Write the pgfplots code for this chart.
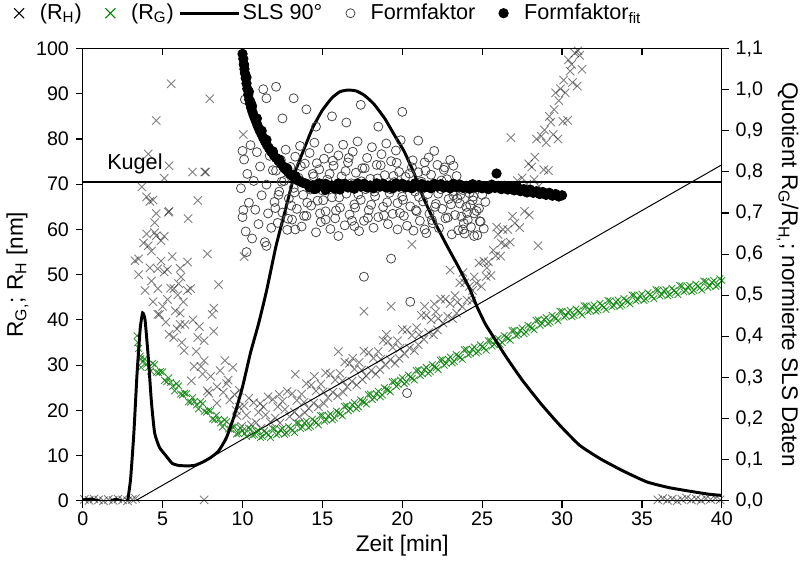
\documentclass[border=0pt]{standalone}
\usepackage{fontspec}
\setmainfont{Liberation Sans}
\usepackage{pgfplots}
\pgfplotsset{compat=1.18}
\definecolor{rgreen}{RGB}{0,128,0}
\definecolor{rgray}{RGB}{70,70,70}

\pgfplotsset{
  base/.style={
    scale only axis, width=325pt, height=230pt,
    xmin=0, xmax=40,
    axis line style={line width=0.6pt},
    every tick/.style={black, line width=0.6pt},
    major tick length=3.5pt,
    tick label style={font=\fontsize{10}{12}\selectfont},
    label style={font=\fontsize{11.5}{13}\selectfont},
    /pgf/number format/assume math mode=true,
  },
}

\begin{document}
\begin{tikzpicture}
% ---- left axis: R_H, R_G [nm]
\begin{axis}[base, ymin=0, ymax=100,
  xtick={0,5,...,40}, ytick={0,10,...,100},
  xtick pos=left, ytick pos=left, tick align=outside,
  xticklabel style={yshift=1.5pt},
  xlabel={Zeit [min]},
  ylabel={R\textsubscript{G,}; R\textsubscript{H} [nm]},
  ylabel style={yshift=-3pt}, xlabel style={yshift=2pt}]

% R_H
\addplot[only marks, mark=x, mark size=3pt,
  mark options={draw=black, draw opacity=0.5, line width=0.45pt}] coordinates {
(0.1,0.3)(0.4,0.1)(0.7,0.4)(1.0,0.2)(1.3,0.0)(1.6,0.3)(1.9,0.1)(2.2,0.4)(2.5,0.2)(2.8,0.0)(3.1,0.3)(3.3,0.5)
(3.27,53.1)(3.5,50)(3.5,53.5)(3.7,69.4)(3.9,46.5)(4.0,67.2)(4.1,76.7)(4.1,56.4)(4.2,66.2)(4.3,55.2)(4.3,48.6)
(4.4,66.5)(4.5,59.3)(4.6,84.1)(4.6,58.6)(4.7,51.3)(4.7,46.9)(4.7,41.2)(4.8,41.2)(4.9,57.5)(5.1,71.3)(5.1,58.5)
(5.1,50.6)(5.3,51.1)(5.36,63.8)(5.4,74.1)(5.4,64)(5.4,36.8)(5.5,47)(5.54,92.2)(5.7,46.9)(5.7,36.1)(5.9,38)
(5.95,45.5)(6.1,51.4)(6.1,41.5)(6.1,39)(6.15,49.5)(6.35,33.2)(6.4,39)(6.56,52.8)(6.56,46.5)(6.6,62.4)(6.75,46.9)
(6.87,72.7)(6.97,29.7)(7.2,66.4)(7.2,36.1)(7.4,29.7)(7.6,35.4)(7.6,31)(7.63,72.7)(7.8,54.6)(7.8,24.3)(7.9,23.8)
(7.95,88.9)(8.1,41.2)(8.2,42.6)(8.2,37.5)(8.4,25.2)(8.4,21.6)(8.5,47.8)(8.6,28.8)(9.0,25.9)(9.1,26.7)(9.2,22.3)
(9.4,29.5)(9.8,24.4)(7.6,0.2)(4.4,44)(5.0,43)(5.2,39.5)(5.8,42)(6.3,44)(6.9,40)(7.1,33)(7.3,38.5)(6.2,35)
(5.6,54)(4.9,53)(4.2,51.5)(4.5,61.5)(4.0,59)(3.8,57)(6.8,26.5)(8.0,27.5)(8.8,24)(8.9,31)(9.6,20)(7.5,28)
(5.3,44.5)(6.0,48)(4.6,63.5)(7.7,72.7)(10.05,81)(10.1,54)
(9.50,23.5)(9.65,18.8)(9.80,20.7)(9.95,16.5)(10.10,21.0)(10.25,18.9)(10.40,22.7)(10.55,16.8)(10.70,21.7)
(10.85,17.3)(11.00,19.6)(11.15,16.0)(11.30,20.8)(11.45,19.0)(11.60,23.0)(11.75,17.4)(11.90,22.4)(12.05,18.3)
(12.20,20.8)(12.35,17.2)(12.50,22.0)(12.65,20.2)(12.80,24.2)(12.95,18.6)(13.10,23.7)(13.25,19.6)(13.40,22.2)
(13.55,18.6)(13.70,23.6)(13.85,21.8)(14.00,25.9)(14.15,20.4)(14.30,25.6)(14.45,21.6)(14.60,24.3)(14.75,20.8)
(14.90,25.8)(15.05,24.1)(15.20,28.3)(15.35,22.8)(15.50,28.0)(15.65,24.0)(15.80,26.7)(15.95,23.2)(16.10,28.2)
(16.25,26.5)(16.40,30.7)(16.55,25.2)(16.70,30.4)(16.85,26.4)(17.00,29.1)(17.15,25.6)(17.30,30.6)(17.45,28.9)
(17.60,33.1)(17.75,27.6)(17.90,32.8)(18.05,28.8)(18.20,31.5)(18.35,28.0)(18.50,33.0)(18.65,31.3)(18.80,35.5)
(18.95,30.0)(19.10,35.2)(19.25,31.2)(19.40,33.9)(19.55,30.4)(19.70,35.4)(19.85,33.7)(20.00,37.9)(20.15,32.5)
(20.30,37.8)(20.45,33.8)(20.60,36.6)(20.75,33.2)(20.90,38.3)(21.05,36.7)(21.20,41.0)(21.35,35.7)(21.50,41.0)
(21.65,37.2)(21.80,40.0)(21.95,36.7)(22.10,41.8)(22.25,40.3)(22.40,44.6)(22.55,39.3)(22.70,44.6)(22.85,40.8)
(23.00,43.6)(23.15,40.3)(23.30,45.4)(23.45,43.9)(23.60,48.2)(23.75,42.9)(23.90,48.2)(24.05,44.4)(24.20,47.4)
(24.35,44.2)(24.50,49.5)(24.65,48.1)(24.80,52.6)(24.95,47.4)(25.10,53.0)(25.25,49.6)(25.40,52.8)(25.55,49.8)
(25.70,55.4)(25.85,54.2)(26.00,58.9)(26.15,54.1)(26.30,60.0)(26.45,56.6)(26.60,60.0)(26.75,57.2)(26.90,62.9)
(27.05,61.4)(27.20,70.8)(27.35,60.4)(27.50,71.4)(27.65,64.0)(27.80,70.0)(27.95,63.2)(28.10,73.8)(28.25,71.0)
(28.40,80.0)(28.55,69.6)(28.70,80.6)(28.85,73.2)(29.00,79.2)(29.15,73.0)(29.30,83.7)(29.45,81.0)(29.60,90.2)
(29.75,80.0)(29.90,91.1)(30.05,83.9)(30.20,90.2)(30.35,84.1)(30.50,95.0)(30.65,92.5)(30.80,99.0)(30.95,91.7)
(31.10,98.5)(31.25,95.4)(30.4,97.5)(31.0,99.5)(30.6,96.5)(29.8,88.5)(29.5,86.5)(30.1,93)(28.9,82)(29.2,85)
(27.9,74.5)(28.3,76)(26.8,80.3)(28.5,56.4)(17.6,41.9)(19.3,43)(20.6,56.7)(22.0,43.5)(16.0,33)(23.0,51)(13.3,28)
(12.3,23.5)(13.9,19.5)(15.1,21.5)(16.3,24.0)(17.5,26.8)(18.6,29.0)(19.8,31.5)(21.0,34.5)(22.2,37.8)(23.4,41.5)
(24.4,46.5)(25.3,51.5)(26.2,57.0)(11.1,21.5)(14.5,27.5)(16.9,31.5)(19.0,36.8)(21.4,43.0)(23.8,50.5)(25.9,60.5)
(36.0,0.2)(36.3,0.5)(36.6,0.1)(36.9,0.4)(37.2,0.0)(37.5,0.3)(37.8,0.6)(38.1,0.2)(38.4,0.4)(38.7,0.1)(39.0,0.5)
(39.3,0.3)(39.6,0.6)(39.9,0.2)
};

% R_G
\addplot[only marks, mark=x, mark size=2.4pt,
  mark options={draw=rgreen, draw opacity=0.8, line width=0.45pt}] coordinates {
(3.4,36.5)(3.45,35.0)(3.6,32.0)(3.65,29.5)
(3.50,33.7)(3.75,30.7)(4.00,30.2)(4.25,28.7)(4.50,30.1)(4.75,28.3)(5.00,28.5)(5.25,26.3)(5.50,26.2)(5.75,24.3)
(6.00,25.4)(6.25,23.4)(6.50,23.7)(6.75,21.8)(7.00,22.0)(7.25,20.3)(7.50,21.5)(7.75,19.6)(8.00,19.9)(8.25,17.9)
(8.50,18.0)(8.75,16.3)(9.00,17.5)(9.25,15.8)(9.50,16.4)(9.75,14.9)(10.00,15.5)(10.25,14.2)(10.50,15.9)(10.75,14.6)
(11.00,15.5)(11.25,14.2)(11.50,15.0)(11.75,14.0)(12.00,15.9)(12.25,14.9)(12.50,16.0)(12.75,15.0)(13.00,16.0)(13.25,15.1)
(13.50,17.2)(13.75,16.3)(14.00,17.6)(14.25,16.5)(14.50,17.6)(14.75,16.8)(15.00,18.9)(15.25,17.9)(15.50,19.2)(15.75,18.3)
(16.00,19.5)(16.25,18.8)(16.50,21.0)(16.75,20.3)(17.00,21.7)(17.25,20.8)(17.50,22.0)(17.75,21.4)(18.00,23.6)(18.25,22.8)
(18.50,24.2)(18.75,23.4)(19.00,24.7)(19.25,24.1)(19.50,26.4)(19.75,25.7)(20.00,27.2)(20.25,26.3)(20.50,27.4)(20.75,26.7)
(21.00,28.9)(21.25,28.1)(21.50,29.5)(21.75,28.6)(22.00,29.7)(22.25,29.0)(22.50,31.2)(22.75,30.4)(23.00,31.8)(23.25,30.8)
(23.50,32.0)(23.75,31.3)(24.00,33.5)(24.25,32.6)(24.50,34.0)(24.75,33.0)(25.00,34.1)(25.25,33.3)(25.50,35.4)(25.75,34.6)
(26.00,35.9)(26.25,35.0)(26.50,36.2)(26.75,35.5)(27.00,37.7)(27.25,36.8)(27.50,38.2)(27.75,37.3)(28.00,38.5)(28.25,37.8)
(28.50,40.0)(28.75,39.2)(29.00,40.5)(29.25,39.5)(29.50,40.6)(29.75,39.8)(30.00,41.9)(30.25,40.9)(30.50,42.1)(30.75,41.0)
(31.00,42.0)(31.25,41.1)(31.50,43.1)(31.75,42.1)(32.00,43.3)(32.25,42.2)(32.50,43.2)(32.75,42.3)(33.00,44.2)(33.25,43.2)
(33.50,44.4)(33.75,43.3)(34.00,44.3)(34.25,43.5)(34.50,45.5)(34.75,44.5)(35.00,45.7)(35.25,44.6)(35.50,45.6)(35.75,44.7)
(36.00,46.6)(36.25,45.6)(36.50,46.7)(36.75,45.6)(37.00,46.5)(37.25,45.6)(37.50,47.5)(37.75,46.5)(38.00,47.6)(38.25,46.5)
(38.50,47.5)(38.75,46.6)(39.00,48.5)(39.25,47.5)(39.50,48.7)(39.75,47.7)(40.00,48.7)
(3.625,31.4)(3.875,31.4)(4.125,29.5)(4.375,30.4)(4.625,28.4)(4.875,28.6)(5.125,26.6)(5.375,27.2)(5.625,25.3)
(5.875,25.9)(6.125,23.6)(6.375,23.8)(6.625,21.9)(6.875,22.8)(7.125,21.2)(7.375,21.9)(7.625,19.8)(7.875,20.0)
(8.125,18.1)(8.375,18.9)(8.625,17.2)(8.875,17.9)(9.125,15.9)(9.375,16.3)(9.625,14.8)(9.875,16.1)(10.125,14.9)
(10.375,16.1)(10.625,14.5)(10.875,15.3)(11.125,14.0)(11.375,15.5)(11.625,14.6)(11.875,16.0)(12.125,14.6)
(12.375,15.7)(12.625,14.7)(12.875,16.4)(13.125,15.6)(13.375,17.2)(13.625,16.0)(13.875,17.2)(14.125,16.2)
(14.375,18.0)(14.625,17.3)(14.875,18.9)(15.125,17.6)(15.375,18.8)(15.625,17.9)(15.875,19.8)(16.125,19.2)
(16.375,20.9)(16.625,19.9)(16.875,21.2)(17.125,20.4)(17.375,22.3)(17.625,21.8)(17.875,23.5)(18.125,22.4)
(18.375,23.7)(18.625,23.0)(18.875,25.0)(19.125,24.5)(19.375,26.3)(19.625,25.3)(19.875,26.7)(20.125,25.9)
(20.375,27.8)(20.625,27.1)(20.875,28.8)(21.125,27.7)(21.375,29.0)(21.625,28.2)(21.875,30.1)(22.125,29.4)
(22.375,31.1)(22.625,30.0)(22.875,31.3)(23.125,30.5)(23.375,32.3)(23.625,31.7)(23.875,33.4)(24.125,32.3)
(24.375,33.5)(24.625,32.7)(24.875,34.5)(25.125,33.8)(25.375,35.4)(25.625,34.2)(25.875,35.5)(26.125,34.6)
(26.375,36.5)(26.625,35.9)(26.875,37.6)(27.125,36.5)(27.375,37.7)(27.625,36.9)(27.875,38.8)(28.125,38.2)
(28.375,39.9)(28.625,38.8)(28.875,40.1)(29.125,39.2)(29.375,41.0)(29.625,40.3)(29.875,41.9)(30.125,40.6)
(30.375,41.7)(30.625,40.7)(30.875,42.4)(31.125,41.6)(31.375,43.1)(31.625,41.8)(31.875,42.9)(32.125,41.9)
(32.375,43.6)(32.625,42.8)(32.875,44.3)(33.125,42.9)(33.375,44.0)(33.625,43.0)(33.875,44.7)(34.125,44.0)
(34.375,45.5)(34.625,44.2)(34.875,45.3)(35.125,44.3)(35.375,46.0)(35.625,45.2)(35.875,46.7)(36.125,45.3)
(36.375,46.4)(36.625,45.3)(36.875,47.0)(37.125,46.1)(37.375,47.6)(37.625,46.2)(37.875,47.3)(38.125,46.2)
(38.375,47.9)(38.625,47.1)(38.875,48.6)(39.125,47.2)(39.375,48.3)(39.625,47.4)(39.875,49.1)
};

% linear guide
\addplot[black, line width=0.5pt] coordinates {(3.3,0) (40,74.3)};
\end{axis}

% ---- right axis: quotient, normalised SLS
\begin{axis}[base, ymin=0, ymax=1.1,
  axis y line*=right, axis x line=none,
  ytick={0,0.1,0.2,0.3,0.4,0.5,0.6,0.7,0.8,0.9,1.0,1.1}, tick align=outside,
  yticklabel style={/pgf/number format/.cd, fixed, fixed zerofill, precision=1, use comma},
  ylabel={Quotient R\textsubscript{G}/R\textsubscript{H,}; normierte SLS Daten},
  ylabel style={rotate=180},
  legend columns=-1, legend cell align=left,
  legend style={at={(-0.108,1.078)}, anchor=west, draw=none, fill=none,
    font=\fontsize{11}{13}\selectfont, inner sep=0pt,
    /tikz/every odd column/.append style={column sep=6pt},
    /tikz/every even column/.append style={column sep=10pt}}]

\addlegendimage{only marks, mark=x, mark size=3.6pt, black, mark options={line width=0.5pt}}
\addlegendentry{(R\textsubscript{H})}
\addlegendimage{only marks, mark=x, mark size=3.6pt, rgreen, mark options={line width=0.5pt}}
\addlegendentry{(R\textsubscript{G})}

% Kugel
\addplot[black, line width=0.8pt, forget plot] coordinates {(0,0.775) (40,0.775)};
\node[anchor=base west, font=\fontsize{11}{13}\selectfont] at (axis cs:1.1,0.805) {Kugel};

% SLS 90
\addplot[black, line width=1.5pt, smooth, tension=0.3,
  legend image code/.code={
    \draw[overlay, line width=1.5pt] (-9pt,0pt) -- (21pt,0pt);
    \path[draw=none, fill=none] (0pt,-2pt) rectangle (15pt,2pt);}] coordinates {
(0,0.002)(0.5,0.004)(1.0,0.0)(1.5,-0.004)(2.0,0.003)(2.4,0.0)(2.6,-0.016)(2.75,-0.01)(2.85,0.01)(3.0,0.055)
(3.2,0.165)(3.4,0.31)(3.6,0.42)(3.75,0.457)(3.9,0.44)(4.1,0.35)(4.3,0.24)(4.5,0.165)(4.8,0.13)(5.2,0.11)
(5.6,0.091)(6.0,0.086)(6.5,0.085)(7.0,0.086)(7.5,0.094)(8.0,0.105)(8.5,0.121)(9.0,0.154)(9.5,0.209)(10.0,0.277)
(10.5,0.36)(11.0,0.43)(11.5,0.51)(12.1,0.62)(12.7,0.71)(13.3,0.80)(14.0,0.87)(14.4,0.908)(15.0,0.95)(15.6,0.98)
(16.1,0.995)(16.6,0.999)(17.1,0.997)(17.6,0.987)(18.2,0.966)(18.9,0.93)(19.5,0.89)(20.1,0.851)(20.7,0.80)
(21.3,0.739)(22.0,0.68)(22.8,0.62)(23.5,0.57)(24.2,0.517)(24.7,0.47)(25.2,0.43)(25.6,0.405)(26.5,0.35)
(27.5,0.294)(28.7,0.235)(29.9,0.182)(31.1,0.135)(32.4,0.102)(33.8,0.073)(35.3,0.046)(36.7,0.032)(38.2,0.022)
(39.2,0.016)(40,0.013)
};
\addlegendentry{SLS 90°}

% Formfaktor
\addplot[only marks, mark=o, mark size=2.3pt,
  mark options={draw=rgray, line width=0.4pt, fill=none}] coordinates {
(9.9,0.760)(10.0,0.690)(10.1,0.830)(10.2,0.655)(10.3,0.795)(10.4,0.725)(10.5,0.865)(10.6,0.638)(10.7,0.778)
(10.8,0.708)(10.9,0.848)(11.0,0.673)(11.1,0.813)(11.2,0.743)(11.3,0.883)(11.4,0.629)(11.5,0.769)(11.6,0.699)
(11.7,0.839)(11.8,0.664)(11.9,0.804)
(12.0,0.727)(12.1,0.803)(12.2,0.676)(12.3,0.752)(12.4,0.829)(12.5,0.701)(12.6,0.778)(12.7,0.854)(12.8,0.659)
(12.9,0.735)(13.0,0.812)(13.1,0.684)(13.2,0.761)(13.3,0.837)(13.4,0.710)(13.5,0.786)(13.6,0.863)(13.7,0.667)
(13.8,0.744)(13.9,0.820)(14.0,0.693)(14.1,0.769)(14.2,0.846)(14.3,0.718)(14.4,0.795)(14.5,0.871)(14.6,0.653)
(14.7,0.730)(14.8,0.806)(14.9,0.678)(15.0,0.755)(15.1,0.832)(15.2,0.704)(15.3,0.781)(15.4,0.857)(15.5,0.661)
(15.6,0.738)(15.7,0.815)(15.8,0.687)(15.9,0.764)(16.0,0.840)(16.1,0.713)(16.2,0.789)(16.3,0.866)(16.4,0.670)
(16.5,0.747)(16.6,0.823)(16.7,0.696)(16.8,0.772)(16.9,0.849)(17.0,0.721)(17.1,0.798)(17.2,0.874)(17.3,0.656)
(17.4,0.732)(17.5,0.809)(17.6,0.681)(17.7,0.758)(17.8,0.834)(17.9,0.707)(18.0,0.783)(18.1,0.860)(18.2,0.664)
(18.3,0.741)(18.4,0.817)(18.5,0.690)(18.6,0.766)(18.7,0.843)(18.8,0.715)(18.9,0.792)(19.0,0.869)(19.1,0.673)
(19.2,0.749)(19.3,0.826)(19.4,0.698)(19.5,0.775)(19.6,0.852)(19.7,0.724)(19.8,0.800)(19.9,0.877)
(20.0,0.740)(20.1,0.693)(20.2,0.788)(20.3,0.669)(20.4,0.764)(20.5,0.716)(20.6,0.811)(20.7,0.657)(20.8,0.752)
(20.9,0.704)(21.0,0.799)(21.1,0.681)(21.2,0.776)(21.3,0.728)(21.4,0.823)(21.5,0.651)(21.6,0.746)(21.7,0.698)
(21.8,0.793)(21.9,0.675)(22.0,0.770)(22.1,0.722)(22.2,0.817)(22.3,0.663)(22.4,0.758)(22.5,0.710)(22.6,0.805)
(22.7,0.687)(22.8,0.782)(22.9,0.734)(23.0,0.829)(23.1,0.648)(23.2,0.743)(23.3,0.695)(23.4,0.790)
(23.5,0.658)(23.6,0.723)(23.7,0.691)(23.8,0.756)(23.9,0.650)(24.0,0.715)(24.1,0.683)(24.2,0.748)(24.3,0.666)
(24.4,0.731)(24.5,0.699)(24.6,0.764)(24.7,0.646)(24.8,0.711)(24.9,0.679)(25.0,0.744)(25.1,0.662)(25.2,0.727)
(12.05,0.712)(12.25,0.744)(12.45,0.776)(12.65,0.808)(12.85,0.686)(13.05,0.718)(13.25,0.750)(13.45,0.782)
(13.65,0.814)(13.85,0.693)(14.05,0.725)(14.25,0.757)(14.45,0.789)(14.65,0.821)(14.85,0.699)(15.05,0.731)
(15.25,0.763)(15.45,0.795)(15.65,0.827)(15.85,0.706)(16.05,0.738)(16.25,0.770)(16.45,0.802)(16.65,0.834)
(16.85,0.681)(17.05,0.713)(17.25,0.745)(17.45,0.777)(17.65,0.809)(17.85,0.688)(18.05,0.720)(18.25,0.752)
(18.45,0.784)(18.65,0.816)(18.85,0.694)(19.05,0.726)(19.25,0.758)(19.45,0.790)(19.65,0.822)(19.85,0.700)
(20.05,0.732)(20.25,0.764)(20.45,0.796)(20.65,0.828)(20.85,0.707)(21.05,0.739)(21.25,0.771)(21.45,0.803)
(21.65,0.835)(21.85,0.683)(22.05,0.715)(22.25,0.747)(22.45,0.779)(22.65,0.811)(22.85,0.689)(23.05,0.721)
(23.25,0.753)(23.45,0.735)(23.65,0.745)(23.85,0.675)(24.05,0.700)(24.25,0.720)(24.45,0.740)(24.65,0.705)
(24.85,0.680)
(20.3,0.262)(20.5,0.484)(17.6,0.545)(19.3,0.589)(10.25,0.605)(11.5,0.620)(16.0,0.644)(20.0,0.946)(12.1,1.007)
(11.3,1.001)(13.2,0.979)(14.0,0.952)(15.6,0.935)(17.4,0.963)(10.15,0.976)(11.5,0.979)(24.5,0.644)(23.8,0.660)
(21.0,0.876)(22.0,0.851)(23.2,0.815)(10.0,0.851)(10.05,0.707)(13.3,0.660)(15.2,0.684)(17.0,0.668)(19.7,0.660)
(21.4,0.660)(12.5,0.930)(14.6,0.910)(18.5,0.910)(16.5,0.920)
};
\addlegendentry{Formfaktor}

% Formfaktor fit
\addplot[only marks, mark=*, mark size=2.4pt, black] coordinates {
(10.00,1.087)(10.05,1.075)(10.08,1.062)(10.12,1.050)(10.15,1.040)(10.20,1.028)(10.25,1.015)(10.30,1.002)
(10.36,0.988)(10.42,0.976)(10.48,0.965)(10.55,0.955)(10.62,0.946)(10.70,0.937)(10.78,0.929)(10.87,0.920)
(10.96,0.911)(11.06,0.902)(11.16,0.894)(11.28,0.884)(11.40,0.875)(11.52,0.866)(11.65,0.858)(11.80,0.849)
(11.95,0.841)(12.10,0.834)(12.25,0.827)(12.40,0.820)(12.55,0.813)(12.70,0.806)(12.85,0.800)(13.00,0.794)
(13.15,0.789)(13.30,0.784)(13.45,0.780)(13.60,0.777)(13.75,0.774)(13.90,0.772)
(10.25,1.030)(10.4,0.995)(10.6,0.960)(10.9,0.930)(11.2,0.900)(11.5,0.878)(11.9,0.850)(12.3,0.830)(12.8,0.808)
(13.3,0.790)(10.1,1.060)(10.5,0.970)(14.5,0.758)(15.2,0.756)(16.1,0.757)
(14.0,0.771)(14.2,0.762)(14.4,0.767)(14.6,0.759)(14.8,0.772)(15.0,0.764)(15.2,0.771)(15.4,0.762)(15.6,0.767)
(15.8,0.759)(16.0,0.772)(16.2,0.764)(16.4,0.771)(16.6,0.762)(16.8,0.767)(17.0,0.759)(17.2,0.772)(17.4,0.764)
(17.6,0.771)(17.8,0.762)(18.0,0.767)(18.2,0.760)(18.4,0.772)(18.6,0.764)(18.8,0.771)(19.0,0.762)(19.2,0.767)
(19.4,0.760)(19.6,0.772)(19.8,0.764)(20.0,0.771)(20.2,0.762)(20.4,0.767)(20.6,0.760)(20.8,0.772)(21.0,0.764)
(21.2,0.770)(21.4,0.762)(21.6,0.767)(21.8,0.760)(22.0,0.771)(22.2,0.764)(22.4,0.770)(22.6,0.762)(22.8,0.767)
(23.0,0.760)(23.2,0.771)(23.4,0.763)(23.6,0.769)(23.8,0.761)(24.0,0.766)(24.2,0.759)(24.4,0.770)(24.6,0.762)
(24.8,0.768)(25.0,0.760)(25.2,0.765)(25.4,0.758)(25.6,0.769)(25.8,0.761)(26.0,0.766)(26.2,0.758)(26.4,0.766)
(26.6,0.757)(26.8,0.763)(27.0,0.755)(27.2,0.763)(27.4,0.753)(27.6,0.758)(27.8,0.750)(28.0,0.757)(28.2,0.749)
(28.4,0.753)(28.6,0.746)(28.8,0.751)(29.0,0.744)(29.2,0.749)(29.4,0.742)(29.6,0.746)(29.8,0.740)(30.0,0.743)
(25.9,0.796)
};
\addlegendentry{Formfaktor\textsubscript{fit}}
\end{axis}

% ---- top ticks, pointing inwards
\begin{axis}[base, ymin=0, ymax=1,
  axis x line*=top, axis y line=none,
  xtick={5,10,...,35}, xticklabels={}, tick align=inside]
\end{axis}
\end{tikzpicture}
\end{document}
